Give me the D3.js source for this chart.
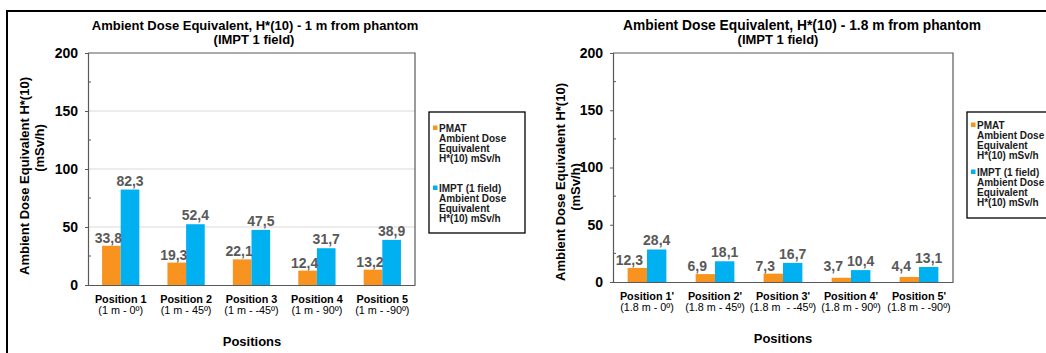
<!DOCTYPE html>
<html>
<head>
<meta charset="utf-8">
<script src="https://cdn.jsdelivr.net/npm/d3@7"></script>
<style>
  html, body { margin: 0; padding: 0; background: #ffffff; }
  svg { display: block; }
  text { font-family: "Liberation Sans", Arial, sans-serif; }
</style>
</head>
<body>
<svg id="chart" width="1046" height="353"></svg>
<script>
// Positions measured at 1 m from the phantom
const nearPositions = ["Position 1", "Position 2", "Position 3", "Position 4", "Position 5"];
const nearAngles = ["(1 m - 0º)", "(1 m - 45º)", "(1 m - -45º)", "(1 m - 90º)", "(1 m - -90º)"];
const nearPmat = [33.8, 19.3, 22.1, 12.4, 13.2];
const nearImpt = [82.3, 52.4, 47.5, 31.7, 38.9];

// Positions measured at 1.8 m from the phantom
const farPositions = ["Position 1'", "Position 2'", "Position 3'", "Position 4'", "Position 5'"];
const farAngles = ["(1.8 m - 0º)", "(1.8 m - 45º)", "(1.8 m  - -45º)", "(1.8 m - 90º)", "(1.8 m - -90º)"];
const farPmat = [12.3, 6.9, 7.3, 3.7, 4.4];
const farImpt = [28.4, 18.1, 16.7, 10.4, 13.1];

const yTicks = [0, 50, 100, 150, 200];
const yMinorTicks = [25, 75, 125, 175];
const yDomain = [0, 200];

const pmatLegend = ["PMAT", "Ambient Dose", "Equivalent", "H*(10) mSv/h"];
const imptLegend = ["IMPT (1 field)", "Ambient Dose", "Equivalent", "H*(10) mSv/h"];

const nearTitle = ["Ambient Dose Equivalent, H*(10) - 1 m from phantom", "(IMPT 1 field)"];
const farTitle = ["Ambient Dose Equivalent, H*(10) - 1.8 m from phantom", "(IMPT 1 field)"];
const yTitle = ["Ambient Dose Equivalent H*(10)", "(mSv/h)"];
const xTitle = "Positions";

const ORANGE = "#F7931E";
const BLUE = "#00B0F0";
const AXIS = "#595959";
const fmt = v => d3.format(".1f")(v).replace(".", ",");

const svg = d3.select("#chart");

// outer frame
svg.append("path")
  .attr("d", "M7,353V11H1046")
  .attr("fill", "none").attr("stroke", "#000").attr("stroke-width", 2);

function drawPanel(cfg) {
  const g = svg.append("g");
  const x = d3.scaleBand().domain(cfg.positions).range([cfg.left, cfg.right]);
  const y = d3.scaleLinear().domain(yDomain).range([cfg.bottom, cfg.top]);
  const barW = x.bandwidth() * 0.285;

  // gridlines
  if (cfg.grid) {
    g.append("g").selectAll("line").data(yTicks.filter(t => t > 0 && t < 200)).join("line")
      .attr("x1", cfg.left).attr("x2", cfg.right)
      .attr("y1", d => y(d)).attr("y2", d => y(d))
      .attr("stroke", "#D9D9D9").attr("stroke-width", 1);
  }

  // plot border (top and right)
  g.append("path")
    .attr("d", `M${cfg.left},${cfg.top}H${cfg.right}V${cfg.bottom}`)
    .attr("fill", "none").attr("stroke", AXIS).attr("stroke-width", 1.2);

  // bars
  const rows = cfg.positions.map((p, i) => ({ p, i, pmat: cfg.pmat[i], impt: cfg.impt[i] }));
  const cx = d => x(d.p) + x.bandwidth() / 2;
  g.append("g").selectAll("rect").data(rows).join("rect")
    .attr("x", d => cx(d) - barW).attr("width", barW)
    .attr("y", d => y(d.pmat)).attr("height", d => y(0) - y(d.pmat))
    .attr("fill", ORANGE);
  g.append("g").selectAll("rect").data(rows).join("rect")
    .attr("x", d => cx(d)).attr("width", barW)
    .attr("y", d => y(d.impt)).attr("height", d => y(0) - y(d.impt))
    .attr("fill", BLUE);

  // value labels
  const labelBase = v => Math.min(y(v) - 3, y(0) - 11);
  g.append("g").selectAll("text").data(rows).join("text")
    .attr("x", d => cx(d) - barW / 2 + cfg.pmatLabelShift)
    .attr("y", d => labelBase(d.pmat))
    .attr("text-anchor", "middle")
    .attr("font-size", 14).attr("font-weight", "bold").attr("fill", "#595959")
    .text(d => fmt(d.pmat));
  g.append("g").selectAll("text").data(rows).join("text")
    .attr("x", d => cx(d) + barW / 2)
    .attr("y", d => y(d.impt) - 4)
    .attr("text-anchor", "middle")
    .attr("font-size", 14).attr("font-weight", "bold").attr("fill", "#595959")
    .text(d => fmt(d.impt));

  // y axis
  const yAxis = g.append("g").attr("transform", `translate(${cfg.left},0)`)
    .call(d3.axisLeft(y).tickValues(yTicks).tickSize(3).tickPadding(7));
  yAxis.select(".domain").attr("stroke", AXIS).attr("stroke-width", 1.2);
  yAxis.selectAll(".tick line").attr("stroke", AXIS);
  yAxis.selectAll(".tick text")
    .attr("font-family", '"Liberation Sans", Arial, sans-serif')
    .attr("font-size", 14).attr("font-weight", "bold").attr("fill", "#000");
  g.append("g").selectAll("line").data(yMinorTicks).join("line")
    .attr("x1", cfg.left).attr("x2", cfg.left + 3)
    .attr("y1", d => y(d)).attr("y2", d => y(d))
    .attr("stroke", AXIS);

  // x axis
  const xAxis = g.append("g").attr("transform", `translate(0,${cfg.bottom})`)
    .call(d3.axisBottom(x).tickSize(0).tickFormat(""));
  xAxis.select(".domain").attr("stroke", AXIS).attr("stroke-width", 1.2);
  const xl = g.append("g").selectAll("g").data(rows).join("g")
    .attr("transform", d => `translate(${cx(d)},0)`);
  xl.append("text")
    .attr("y", cfg.xLabelY[0]).attr("text-anchor", "middle")
    .attr("font-size", 10.8).attr("font-weight", "bold").attr("fill", "#000")
    .text(d => d.p);
  xl.append("text")
    .attr("y", cfg.xLabelY[1]).attr("text-anchor", "middle")
    .attr("font-size", 10.8).attr("fill", "#000")
    .style("white-space", "pre")
    .text(d => cfg.angles[d.i]);

  // axis titles
  g.append("text")
    .attr("x", cfg.xTitlePos[0]).attr("y", cfg.xTitlePos[1])
    .attr("text-anchor", "middle").attr("font-size", 13).attr("font-weight", "bold")
    .text(xTitle);
  yTitle.forEach((t, k) => {
    g.append("text")
      .attr("transform", `translate(${cfg.yTitleX[k]},${cfg.yTitleCy[k]}) rotate(-90)`)
      .attr("text-anchor", "middle").attr("dy", "0.35em")
      .attr("font-size", 13).attr("font-weight", "bold")
      .text(t);
  });

  // chart title
  cfg.title.forEach((t, k) => {
    g.append("text")
      .attr("x", cfg.titleX[k]).attr("y", [29.5, 43.5][k])
      .attr("text-anchor", "middle").attr("font-size", cfg.titleSize[k]).attr("font-weight", "bold")
      .text(t);
  });

  // legend
  const L = cfg.legend;
  g.append("rect")
    .attr("x", L.x).attr("y", L.y).attr("width", L.w).attr("height", L.h)
    .attr("fill", "#fff").attr("stroke", "#000").attr("stroke-width", 1.3);
  [[pmatLegend, ORANGE, L.first], [imptLegend, BLUE, L.second]].forEach(([lines, color, y0]) => {
    g.append("rect")
      .attr("x", L.x + 4).attr("y", y0 - 2.5).attr("width", 4.5).attr("height", 4.5)
      .attr("fill", color);
    lines.forEach((t, k) => {
      g.append("text")
        .attr("x", L.x + 10).attr("y", y0 + k * L.step).attr("dy", "0.35em")
        .attr("font-size", 10).attr("font-weight", "bold").attr("fill", "#1a1a1a")
        .text(t);
    });
  });
}

drawPanel({
  positions: nearPositions, angles: nearAngles, pmat: nearPmat, impt: nearImpt,
  left: 88, right: 415, top: 53, bottom: 285, grid: true,
  pmatLabelShift: -3,
  xLabelY: [303, 314], xTitlePos: [252, 346],
  yTitleX: [24, 39], yTitleCy: [176, 148],
  title: nearTitle, titleX: [255, 254], titleSize: [13, 13],
  legend: { x: 429, y: 112, w: 96, h: 121, first: 128, second: 188, step: 10.3 }
});

drawPanel({
  positions: farPositions, angles: farAngles, pmat: farPmat, impt: farImpt,
  left: 613, right: 953, top: 53, bottom: 282, grid: false,
  pmatLabelShift: -8,
  xLabelY: [300, 311], xTitlePos: [783, 343],
  yTitleX: [560, 575], yTitleCy: [182, 187],
  title: farTitle, titleX: [802, 778], titleSize: [13.8, 13],
  legend: { x: 967, y: 112, w: 90, h: 106, first: 125, second: 172, step: 10.3 }
});
</script>
</body>
</html>
